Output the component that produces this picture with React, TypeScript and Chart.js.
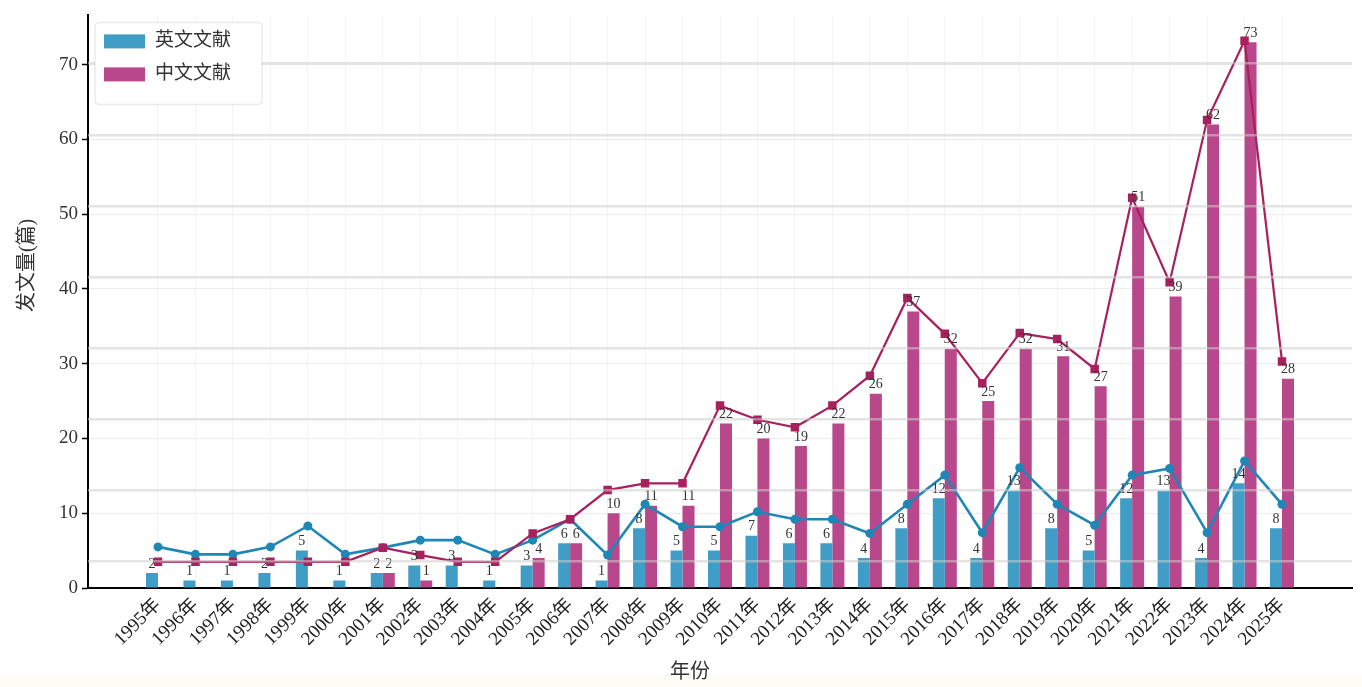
import { useEffect, useRef } from 'react';
import { Chart, registerables } from 'chart.js';

Chart.register(...registerables);

const years = [
  '1995年', '1996年', '1997年', '1998年', '1999年', '2000年', '2001年', '2002年',
  '2003年', '2004年', '2005年', '2006年', '2007年', '2008年', '2009年', '2010年',
  '2011年', '2012年', '2013年', '2014年', '2015年', '2016年', '2017年', '2018年',
  '2019年', '2020年', '2021年', '2022年', '2023年', '2024年', '2025年',
];

// 英文文献 bars
const englishCounts = [2, 1, 1, 2, 5, 1, 2, 3, 3, 1, 3, 6, 1, 8, 5, 5, 7, 6, 6, 4, 8, 12, 4, 13, 8, 5, 12, 13, 4, 14, 8];
// 中文文献 bars
const chineseCounts = [0, 0, 0, 0, 0, 0, 2, 1, 0, 0, 4, 6, 10, 11, 11, 22, 20, 19, 22, 26, 37, 32, 25, 32, 31, 27, 51, 39, 62, 73, 28];
// trend lines as drawn in the picture
const englishTrend = [5.5, 4.5, 4.5, 5.5, 8.3, 4.5, 5.4, 6.4, 6.4, 4.5, 6.4, 9.2, 4.4, 11.2, 8.2, 8.2, 10.2, 9.2, 9.2, 7.3, 11.2, 15.1, 7.4, 16.1, 11.2, 8.4, 15.1, 16.0, 7.4, 17.0, 11.2];
const chineseTrend = [3.5, 3.5, 3.5, 3.5, 3.5, 3.5, 5.4, 4.4, 3.5, 3.5, 7.3, 9.2, 13.1, 14.0, 14.0, 24.4, 22.5, 21.5, 24.4, 28.4, 38.8, 34.0, 27.4, 34.1, 33.3, 29.3, 52.2, 40.9, 62.6, 73.2, 30.3];

const yTicks = [0, 10, 20, 30, 40, 50, 60, 70];

const seriesNames = ['英文文献', '中文文献'];
const xTitle = '年份';
const yTitle = '发文量(篇)';

const FONT = "'Liberation Serif', 'Noto Sans CJK SC', serif";
const BLUE_BAR = '#3f9dc6';
const MAG_BAR = '#b9478b';
const BLUE_LINE = '#1f87b5';
const MAG_LINE = '#a8205c';

const bgPlugin = {
  id: 'bg',
  beforeDraw(chart: any) {
    const ctx = chart.ctx;
    ctx.save();
    ctx.fillStyle = '#ffffff';
    ctx.fillRect(0, 0, chart.width, chart.height);
    ctx.fillStyle = '#fefcf4';
    ctx.fillRect(0, chart.height - 12, chart.width, 12);
    ctx.restore();
  },
};

const barLabelPlugin = {
  id: 'barLabels',
  afterDatasetsDraw(chart: any) {
    const ctx = chart.ctx;
    ctx.save();
    ctx.font = `14px ${FONT}`;
    ctx.fillStyle = '#333';
    ctx.textAlign = 'center';
    ctx.textBaseline = 'bottom';
    chart.data.datasets.forEach((ds: any, di: number) => {
      if (ds.type !== 'bar') return;
      const meta = chart.getDatasetMeta(di);
      meta.data.forEach((el: any, i: number) => {
        const v = ds.data[i].y;
        if (!v) return;
        ctx.fillText(String(v), el.x, el.y - 2);
      });
    });
    ctx.restore();
  },
};

const decorPlugin = {
  id: 'decor',
  afterDraw(chart: any) {
    const ctx = chart.ctx;
    const area = chart.chartArea;
    ctx.save();
    // legend box
    ctx.fillStyle = '#ffffff';
    ctx.strokeStyle = 'rgba(0,0,0,0.08)';
    ctx.lineWidth = 1.5;
    ctx.beginPath();
    (ctx as any).roundRect(area.left + 7, area.top + 7, 167, 82, 4);
    ctx.fill();
    ctx.stroke();
    const colors = [BLUE_BAR, MAG_BAR];
    ctx.font = `19px ${FONT}`;
    ctx.textAlign = 'left';
    ctx.textBaseline = 'middle';
    seriesNames.forEach((name, i) => {
      const cy = area.top + 26 + i * 33;
      ctx.fillStyle = colors[i];
      ctx.fillRect(area.left + 16, cy - 7, 41, 14);
      ctx.fillStyle = '#333';
      ctx.fillText(name, area.left + 67, cy);
    });
    // axis titles
    ctx.fillStyle = '#333';
    ctx.font = `20px ${FONT}`;
    ctx.textAlign = 'center';
    ctx.textBaseline = 'middle';
    ctx.fillText(xTitle, area.left + 602, chart.height - 14);
    ctx.translate(28, area.top + 250);
    ctx.rotate(-Math.PI / 2);
    ctx.fillText(yTitle, 0, 0);
    ctx.restore();
  },
};

export default function App() {
  const ref = useRef<HTMLCanvasElement>(null);

  useEffect(() => {
    const canvas = ref.current;
    if (!canvas) return;
    const toXY = (arr: number[]) => arr.map((v, i) => ({ x: i, y: v }));
    const chart = new Chart(canvas, {
      type: 'bar',
      data: {
        datasets: [
          {
            type: 'line',
            label: '中文趋势',
            data: toXY(chineseTrend),
            borderColor: MAG_LINE,
            backgroundColor: MAG_LINE,
            borderWidth: 2.2,
            pointStyle: 'rect',
            pointRadius: 6,
            pointBorderWidth: 0,
            tension: 0,
            order: 0,
            xAxisID: 'x',
            yAxisID: 'y',
          } as any,
          {
            type: 'line',
            label: '英文趋势',
            data: toXY(englishTrend),
            borderColor: BLUE_LINE,
            backgroundColor: BLUE_LINE,
            borderWidth: 2.6,
            pointStyle: 'circle',
            pointRadius: 4.5,
            pointBorderWidth: 0,
            tension: 0,
            order: 1,
            xAxisID: 'x',
            yAxisID: 'y',
          } as any,
          {
            type: 'bar',
            label: seriesNames[0],
            data: toXY(englishCounts),
            backgroundColor: BLUE_BAR,
            categoryPercentage: 0.64,
            barPercentage: 1,
            order: 2,
            xAxisID: 'x',
            yAxisID: 'y',
          } as any,
          {
            type: 'bar',
            label: seriesNames[1],
            data: toXY(chineseCounts),
            backgroundColor: MAG_BAR,
            categoryPercentage: 0.64,
            barPercentage: 1,
            order: 2,
            xAxisID: 'x',
            yAxisID: 'y',
          } as any,
        ],
      },
      options: {
        responsive: false,
        animation: false,
        layout: { padding: { top: 8, right: 10, left: 0, bottom: 0 } },
        plugins: {
          legend: { display: false },
          tooltip: { enabled: false },
        },
        scales: {
          x: {
            type: 'linear',
            position: 'bottom',
            offset: false,
            min: -1.868,
            max: 31.868,
            afterBuildTicks: (s: any) => {
              s.ticks = years.map((_, i) => ({ value: i }));
            },
            afterFit: (s: any) => {
              s.height = 99;
            },
            ticks: {
              autoSkip: false,
              minRotation: 45,
              maxRotation: 45,
              padding: 6,
              color: '#222',
              font: { family: FONT, size: 19 },
              callback: (v: any) => years[v] ?? '',
            },
            grid: { color: 'rgba(0,0,0,0.045)', drawTicks: false, offset: false },
            border: { color: '#000', width: 2 },
          },
          y: {
            type: 'linear',
            position: 'left',
            min: 0,
            max: 76.6,
            afterBuildTicks: (s: any) => {
              s.ticks = yTicks.map((v) => ({ value: v }));
            },
            afterFit: (s: any) => {
              s.width = 88;
            },
            ticks: {
              padding: 4,
              color: '#333',
              font: { family: FONT, size: 19 },
            },
            grid: { color: '#ececec', tickLength: 6, tickColor: '#000', tickWidth: 1.5 },
            border: { color: '#000', width: 2 },
          },
          y2: {
            type: 'linear',
            position: 'right',
            min: 0,
            max: 76.6,
            afterBuildTicks: (s: any) => {
              const t = [];
              for (let k = 0; k < 8; k++) t.push({ value: 3.57 + 9.51 * k });
              s.ticks = t;
            },
            afterFit: (s: any) => {
              s.width = 0;
            },
            ticks: { display: false },
            grid: { z: 1, color: 'rgba(205,205,205,0.55)', lineWidth: 2.5, drawTicks: false },
            border: { display: false },
          },
        },
      } as any,
      plugins: [bgPlugin, barLabelPlugin, decorPlugin],
    });
    return () => chart.destroy();
  }, []);

  return (
    <div style={{ position: 'fixed', left: 0, top: 0, width: 1362, height: 687, background: '#fff' }}>
      <canvas ref={ref} width={1362} height={687} style={{ display: 'block', width: 1362, height: 687 }} />
    </div>
  );
}
